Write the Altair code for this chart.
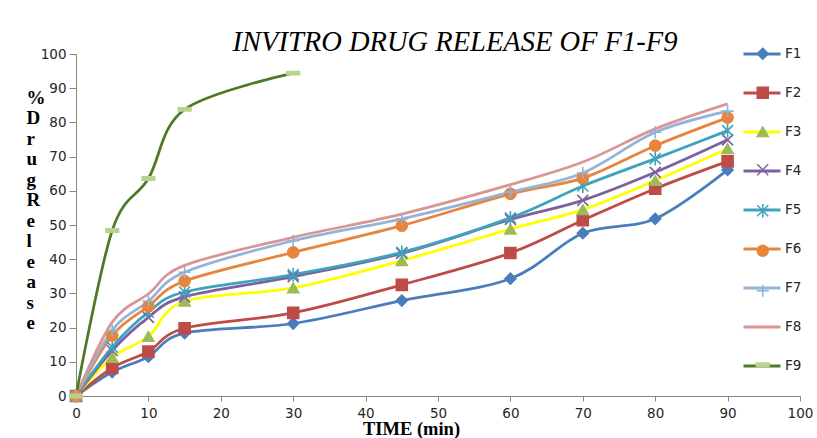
import altair as alt
import pandas as pd

# ---- data ----
series = ["F1", "F2", "F3", "F4", "F5", "F6", "F7", "F8", "F9"]
time = [0, 5, 10, 15, 30, 45, 60, 70, 80, 90]
time_f9 = [0, 5, 10, 15, 30]
F1 = [0, 7.0, 11.5, 18.4, 21.2, 27.9, 34.3, 47.6, 51.8, 66.1]
F2 = [0, 8.2, 13.0, 19.8, 24.3, 32.5, 41.8, 51.4, 60.6, 68.6]
F3 = [0, 11.3, 17.4, 27.7, 31.6, 39.6, 48.8, 54.5, 63.0, 72.3]
F4 = [0, 13.3, 23.0, 29.0, 34.9, 41.7, 51.6, 57.2, 65.4, 74.9]
F5 = [0, 14.3, 24.5, 30.4, 35.5, 42.0, 52.1, 61.4, 69.4, 77.6]
F6 = [0, 17.7, 26.2, 33.6, 42.0, 49.8, 59.1, 63.7, 73.2, 81.4]
F7 = [0, 19.2, 27.7, 36.2, 45.4, 51.8, 59.6, 65.2, 77.1, 83.3]
F8 = [0, 21.6, 29.9, 38.2, 46.4, 53.2, 61.8, 68.4, 78.1, 85.4]
F9 = [0, 48.4, 63.6, 83.8, 94.4]
x_ticks = [0, 10, 20, 30, 40, 50, 60, 70, 80, 90, 100]
y_ticks = [0, 10, 20, 30, 40, 50, 60, 70, 80, 90, 100]

line_colors = ["#4A7EBB", "#BE4B48", "#FFFF00", "#7D60A0", "#3FA3BE",
               "#E8853D", "#95B3D7", "#D99694", "#4E7A26"]
marker_colors = ["#4A7EBB", "#BE4B48", "#9BBB59", "#7D60A0", "#3FA3BE",
                 "#E8853D", "#8EB2DE", "#D99694", "#B9D38F"]
shapes = ["diamond", "square", "triangle-up",
          "M-1,-1L1,1M-1,1L1,-1",
          "M-1,-1L1,1M-1,1L1,-1M0,-1.25L0,1.25",
          "circle",
          "M-1.1,0L1.1,0M0,-1.1L0,1.1",
          "M0,0",
          "M-1.15,-0.3L1.15,-0.3L1.15,0.3L-1.15,0.3Z"]

values = {"F1": F1, "F2": F2, "F3": F3, "F4": F4, "F5": F5,
          "F6": F6, "F7": F7, "F8": F8, "F9": F9}
rows = []
for name in series:
    ts = time_f9 if name == "F9" else time
    for t, v in zip(ts, values[name]):
        rows.append({"series": name, "time": t, "release": v})
df = pd.DataFrame(rows)
df["form"] = df["series"]

y_title = ["%", "D", "r", "u", "g", "", "R", "e", "l", "e", "a", "s", "e"]

x_enc = alt.X(
    "time:Q",
    scale=alt.Scale(domain=[0, 100], nice=False),
    axis=alt.Axis(
        values=x_ticks, title="TIME (min)", grid=False,
        domainColor="#868686", tickColor="#868686", tickSize=5,
        labelFont="DejaVu Sans", labelFontSize=13.5, labelColor="#262626",
        labelPadding=5, labelFlush=False,
        titleFont="Liberation Serif", titleFontSize=18.5, titleFontWeight="bold",
        titleColor="#000000", titleAnchor="start", titleAlign="center",
        titleX=335, titleY=38.5, titleBaseline="alphabetic",
    ),
)
y_enc = alt.Y(
    "release:Q",
    scale=alt.Scale(domain=[0, 100], nice=False),
    axis=alt.Axis(
        values=y_ticks, title=y_title, grid=False,
        domainColor="#868686", tickColor="#868686", tickSize=7,
        labelFont="DejaVu Sans", labelFontSize=13.5, labelColor="#262626",
        labelPadding=3,
        titleFont="Liberation Serif", titleFontSize=19, titleFontWeight="bold",
        titleColor="#000000", titleAngle=0, titleAlign="left",
        titleBaseline="alphabetic", titleLineHeight=20.5,
        titleX=-50, titleY=49,
    ),
)

legend_a = alt.Legend(
    orient="none", legendX=666, legendY=-20, title=None, padding=0,
    symbolType="stroke", symbolSize=1369, symbolStrokeWidth=3,
    labelFont="DejaVu Sans", labelFontSize=13.5, labelColor="#262626",
    labelOffset=3, rowPadding=12, symbolOffset=0,
)
legend_b = alt.Legend(
    orient="none", legendX=680, legendY=-7, title=None, padding=0,
    symbolSize=121, symbolStrokeWidth=1.5,
    labelFont="DejaVu Sans", labelFontSize=13.5, labelExpr="' '",
    labelOffset=3, rowPadding=21, symbolOffset=0,
)

lines = alt.Chart(df).mark_line(interpolate="cardinal", strokeWidth=2.75).encode(
    x=x_enc,
    y=y_enc,
    color=alt.Color("series:N", scale=alt.Scale(domain=series, range=line_colors),
                    legend=legend_a),
)

points = alt.Chart(df).mark_point(filled=True, size=121, strokeWidth=1.6, opacity=1).encode(
    x=x_enc,
    y=y_enc,
    fill=alt.Fill("form:N", scale=alt.Scale(range=marker_colors), legend=legend_b),
    stroke=alt.Stroke("form:N", scale=alt.Scale(range=marker_colors), legend=legend_b),
    shape=alt.Shape("form:N", scale=alt.Scale(range=shapes), legend=legend_b),
)

chart = (
    alt.layer(lines, points)
    .properties(
        width=724, height=342,
        autosize=alt.AutoSizeParams(type="none"),
        padding={"left": 76, "top": 54, "right": 17, "bottom": 42},
        background="#FFFFFF",
        title=alt.TitleParams(
            text="INVITRO DRUG RELEASE OF F1-F9",
            font="Liberation Serif", fontSize=28.5, fontStyle="italic",
            fontWeight="normal", color="#000000", anchor="middle",
            baseline="alphabetic", offset=2, dx=17, dy=47, frame="group",
        ),
    )
    .configure_view(strokeWidth=0)
)

chart.save("out.html", embed_options={"renderer": "svg", "actions": False})
